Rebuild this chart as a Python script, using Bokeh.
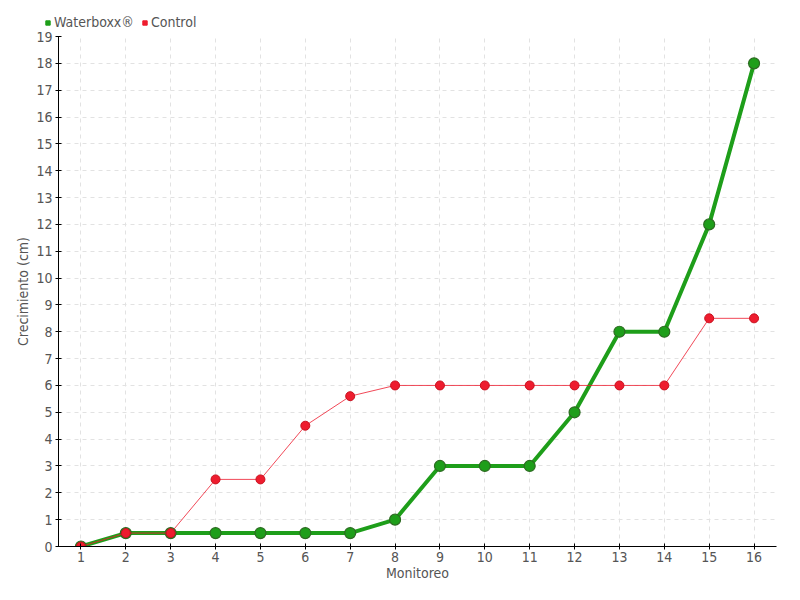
from bokeh.plotting import figure
from bokeh.layouts import column
from bokeh.models import Legend, LegendItem, FixedTicker, ColumnDataSource
from bokeh.embed import file_html
from bokeh.resources import INLINE

monitoreo = list(range(1, 17))
waterboxx = [0, 0.5, 0.5, 0.5, 0.5, 0.5, 0.5, 1, 3, 3, 3, 5, 8, 8, 12, 18]
control = [0, 0.5, 0.5, 2.5, 2.5, 4.5, 5.6, 6, 6, 6, 6, 6, 6, 6, 8.5, 8.5]
y_ticks = list(range(0, 20))
series_names = ["Waterboxx®", "Control"]

FONT = "DejaVu Sans Condensed"
GREEN = "#1e9e1a"
RED = "#ee1c2e"

# --- small legend strip on top ---
lf = figure(width=784, height=30, output_backend="svg", toolbar_location=None,
            x_range=(0, 1), y_range=(0, 1), x_axis_type=None, y_axis_type=None,
            min_border=0, min_border_left=0, min_border_right=0,
            min_border_top=0, min_border_bottom=0)
lf.frame_align = False
lf.outline_line_color = None
lf.xgrid.visible = False
lf.ygrid.visible = False
lg = lf.scatter([-100], [-100], marker="square", size=9, fill_color=GREEN, line_color=GREEN)
lr = lf.scatter([-100], [-100], marker="square", size=9, fill_color=RED, line_color=RED)
legend = Legend(items=[LegendItem(label=series_names[0], renderers=[lg]),
                       LegendItem(label=series_names[1], renderers=[lr])],
                orientation="horizontal", location=(42, 0),
                background_fill_alpha=0, border_line_color=None,
                label_text_font=FONT, label_text_font_size="14px", label_text_color="#555555",
                glyph_width=11, glyph_height=11, spacing=5, label_standoff=1,
                padding=3, margin=0)
lf.add_layout(legend, "center")

# --- main chart ---
p = figure(width=784, height=554, output_backend="svg", toolbar_location=None,
           x_range=(0.5, 16.5), y_range=(0, 19),
           min_border_left=58, min_border_right=8, min_border_top=6, min_border_bottom=38)
p.outline_line_color = None

src = ColumnDataSource(dict(x=monitoreo, w=waterboxx, c=control))

p.line("x", "w", source=src, line_color=GREEN, line_width=4)
p.scatter("x", "w", source=src, size=11, fill_color=GREEN, line_color="#2d6b22", line_width=1.2)
p.line("x", "c", source=src, line_color=RED, line_width=1, line_alpha=0.8)
p.scatter("x", "c", source=src, size=9, fill_color=RED, line_color="#c8101e", line_width=1)

p.xaxis.ticker = FixedTicker(ticks=monitoreo)
p.yaxis.ticker = FixedTicker(ticks=y_ticks)
for ax in (p.xaxis, p.yaxis):
    ax.axis_line_color = "black"
    ax.axis_line_width = 1
    ax.major_tick_line_color = "black"
    ax.major_tick_in = 3
    ax.major_tick_out = 3
    ax.minor_tick_line_color = None
    ax.major_label_text_font = FONT
    ax.major_label_text_font_size = "14px"
    ax.major_label_text_color = "#555555"
    ax.axis_label_text_font = FONT
    ax.axis_label_text_font_size = "14px"
    ax.axis_label_text_font_style = "normal"
    ax.axis_label_text_color = "#555555"
p.xaxis.axis_label = "Monitoreo"
p.yaxis.axis_label = "Crecimiento (cm)"
p.xaxis.axis_label_standoff = 0
p.yaxis.axis_label_standoff = 2
p.xaxis.major_label_standoff = 2
p.yaxis.major_label_standoff = 3

for g in (p.xgrid, p.ygrid):
    g.grid_line_color = "#e2e2e2"
    g.grid_line_dash = "4 4"
    g.grid_line_width = 1

layout = column(lf, p, spacing=0)
open("out.html", "w").write(file_html(layout, INLINE))
